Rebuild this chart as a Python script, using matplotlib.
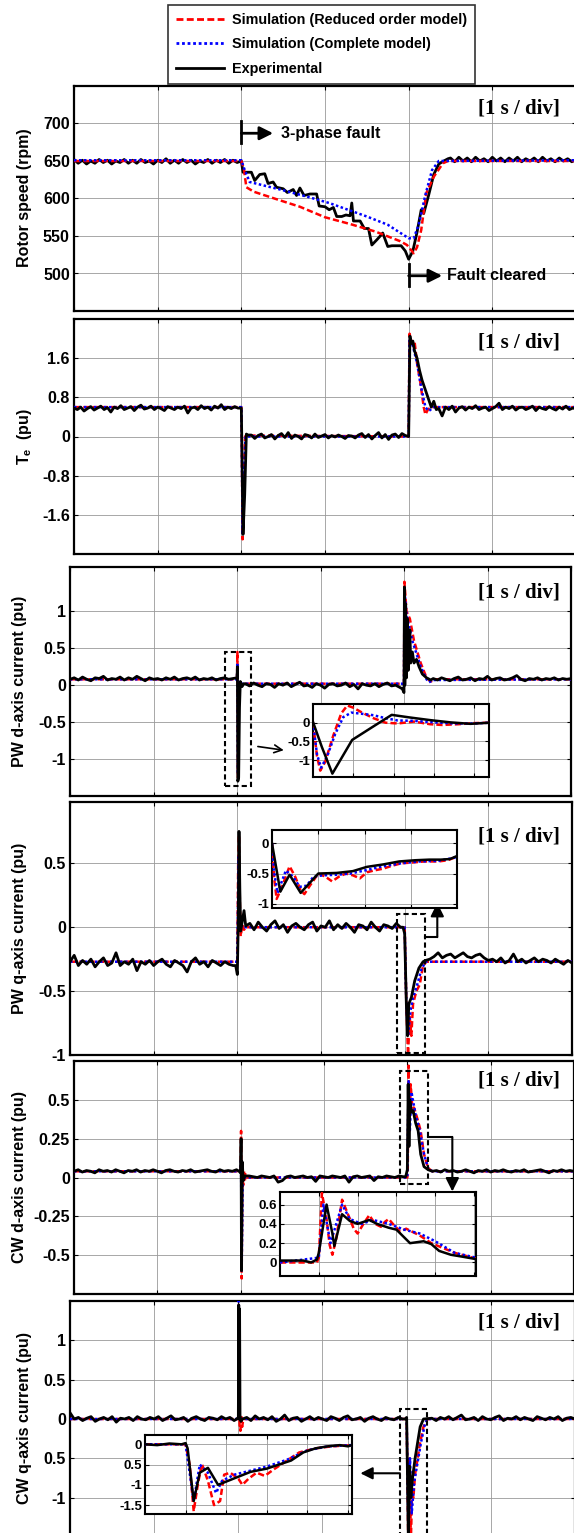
import numpy as np
import matplotlib
matplotlib.use('Agg')
import matplotlib.pyplot as plt
from matplotlib.lines import Line2D
from matplotlib.patches import Rectangle

plt.rcParams['font.family'] = ['Liberation Sans', 'DejaVu Sans']
plt.rcParams['font.weight'] = 'bold'
plt.rcParams['mathtext.fontset'] = 'custom'
plt.rcParams['mathtext.bf'] = 'Liberation Sans:bold'
plt.rcParams['mathtext.rm'] = 'Liberation Sans:bold'
plt.rcParams['mathtext.it'] = 'Liberation Sans:bold'

# ---------------- data ----------------
labels = ['Simulation (Reduced order model)', 'Simulation (Complete model)', 'Experimental']

# Panel 1: rotor speed (rpm)
p1_red_t = [0, 2.0, 2.03, 2.06, 2.15, 2.45, 2.7, 3.0, 3.3, 3.6, 3.9, 3.98, 4.06, 4.1, 4.15, 4.21, 4.3, 4.41, 4.47, 6.0]
p1_red_v = [650, 650, 640, 615, 609, 598, 589, 575, 566, 556, 543, 538, 527, 535, 558, 607, 629, 647, 650, 650]
p1_blue_t = [0, 2.0, 2.04, 2.1, 2.5, 2.8, 3.05, 3.5, 3.75, 4.0, 4.06, 4.12, 4.2, 4.28, 4.36, 6.0]
p1_blue_v = [651, 651, 638, 622, 611, 602, 594, 576, 565, 547, 547, 565, 605, 638, 650, 651]
p1_exp_pre = [652, 647, 651, 646, 650, 647, 652, 648, 651, 646, 650, 648, 652, 647, 651, 647, 652, 648, 650, 646,
              651, 648, 653, 647, 651, 647, 652, 648, 651, 646, 650, 648, 652, 647, 651, 648, 652, 647, 651, 648]
p1_exp_tr_t = [2.0, 2.02, 2.12, 2.16, 2.22, 2.28, 2.32, 2.38, 2.42, 2.5, 2.55, 2.62, 2.66, 2.7, 2.75, 2.82, 2.9, 2.93,
               3.0, 3.05, 3.1, 3.14, 3.2, 3.25, 3.3, 3.32, 3.34, 3.42, 3.47, 3.52, 3.56, 3.62, 3.66, 3.69, 3.75, 3.8,
               3.91, 3.96, 4.0, 4.05, 4.1, 4.15, 4.18, 4.24, 4.3, 4.36, 4.42, 4.47]
p1_exp_tr_v = [650, 635, 635, 624, 632, 633, 620, 622, 615, 613, 608, 612, 604, 614, 604, 606, 606, 590,
               589, 585, 588, 576, 576, 578, 577, 594, 570, 570, 560, 560, 538, 545, 550, 554, 536, 537,
               537, 530, 519, 530, 555, 585, 580, 605, 632, 646, 650, 653]
p1_exp_post = [654, 649, 655, 650, 654, 649, 655, 650, 653, 649, 655, 650, 654, 649, 654, 650, 655, 649, 653, 650,
               654, 649, 655, 650, 653, 649, 654, 650, 653, 649, 652]

# Panel 2: Te (pu)
p2_red_t = [0, 2.0, 2.005, 2.015, 2.03, 2.045, 2.06, 4.0, 4.01, 4.04, 4.07, 4.1, 4.14, 4.18, 4.2, 4.23, 4.27, 6.0]
p2_red_v = [0.6, 0.6, 0.0, -2.1, -1.0, 0.0, 0.02, 0.0, 2.1, 1.9, 1.95, 1.5, 1.1, 0.6, 0.45, 0.55, 0.6, 0.6]
p2_blue_t = [0, 2.0, 2.005, 2.015, 2.03, 2.05, 4.0, 4.01, 4.05, 4.1, 4.15, 4.2, 4.24, 4.3, 6.0]
p2_blue_v = [0.6, 0.6, 0.0, -2.0, -0.9, 0.0, 0.0, 2.0, 1.85, 1.5, 1.0, 0.6, 0.52, 0.6, 0.6]
p2_exp_pre = [0.58, 0.55, 0.6, 0.52, 0.57, 0.61, 0.54, 0.58, 0.62, 0.55, 0.59, 0.5, 0.6, 0.57, 0.63, 0.55, 0.58,
              0.61, 0.53, 0.6, 0.64, 0.56, 0.58, 0.62, 0.55, 0.6, 0.57, 0.53, 0.61, 0.58, 0.55, 0.6, 0.57, 0.62,
              0.48, 0.58, 0.6, 0.55, 0.63, 0.57, 0.6, 0.54, 0.62, 0.58, 0.65, 0.55, 0.6, 0.57, 0.61, 0.58]
p2_exp_tr1_t = [2.0, 2.005, 2.02, 2.04, 2.06, 2.08]
p2_exp_tr1_v = [0.58, 0.0, -2.0, -1.2, 0.05, 0.03]
p2_exp_mid = [0.03, -0.04, 0.02, 0.05, -0.03, 0.0, 0.04, -0.05, 0.02, 0.06, -0.02, 0.08, -0.04, 0.03, 0.0, -0.05,
              0.04, 0.02, -0.03, 0.05, -0.02, 0.01, 0.04, -0.03, 0.02, -0.01, 0.03, 0.0, -0.04, 0.02, 0.01, -0.03,
              0.03, 0.06, -0.02, 0.04, -0.05, 0.02, 0.08, -0.03, 0.04, -0.06, 0.03, 0.05, -0.02, 0.06, 0.02]
p2_exp_tr2_t = [4.0, 4.015, 4.03, 4.05, 4.07, 4.1, 4.13, 4.16, 4.2, 4.24, 4.27, 4.3, 4.33]
p2_exp_tr2_v = [0.0, 2.05, 1.9, 1.95, 1.75, 1.6, 1.35, 1.15, 0.95, 0.75, 0.6, 0.72, 0.55]
p2_exp_post = [0.57, 0.42, 0.6, 0.55, 0.62, 0.5, 0.58, 0.61, 0.54, 0.6, 0.57, 0.63, 0.55, 0.58, 0.6, 0.53, 0.57,
               0.61, 0.68, 0.55, 0.6, 0.57, 0.62, 0.54, 0.59, 0.6, 0.55, 0.58, 0.62, 0.53, 0.6, 0.57, 0.55, 0.61,
               0.57, 0.54, 0.6, 0.56, 0.62, 0.55, 0.58, 0.57]

# Panel 3: PW d-axis current (pu)
p3_red_t = [0, 2.0, 2.005, 2.012, 2.025, 2.04, 2.06, 4.0, 4.005, 4.03, 4.07, 4.12, 4.2, 4.27, 4.32, 4.38, 6.0]
p3_red_v = [0.08, 0.08, 0.45, -1.25, 0.05, 0.0, 0.02, 0.02, 1.4, 1.0, 0.9, 0.6, 0.3, 0.1, 0.05, 0.08, 0.08]
p3_blue_t = [0, 2.0, 2.005, 2.012, 2.025, 2.05, 4.0, 4.005, 4.03, 4.1, 4.2, 4.27, 4.3, 4.35, 6.0]
p3_blue_v = [0.08, 0.08, 0.3, -1.2, 0.0, 0.02, 0.02, 1.3, 0.95, 0.6, 0.25, 0.08, 0.04, 0.07, 0.08]
p3_exp_pre = [0.08, 0.1, 0.07, 0.11, 0.08, 0.06, 0.1, 0.09, 0.12, 0.07, 0.09, 0.08, 0.11, 0.07, 0.1, 0.08, 0.12,
              0.09, 0.06, 0.1, 0.08, 0.09, 0.07, 0.1, 0.08, 0.11, 0.07, 0.09, 0.1, 0.08, 0.11, 0.07, 0.09, 0.08,
              0.1, 0.07, 0.09, 0.1, 0.08, 0.09]
p3_exp_tr1_t = [2.0, 2.005, 2.01, 2.02, 2.03, 2.04, 2.06, 2.08]
p3_exp_tr1_v = [0.1, 0.25, -1.3, -1.25, -0.3, 0.05, -0.02, 0.02]
p3_exp_mid = [0.02, -0.01, 0.03, 0.0, -0.02, 0.02, 0.01, -0.03, 0.02, 0.0, 0.03, -0.02, 0.01, 0.04, -0.01, 0.0,
              -0.03, 0.02, 0.0, -0.04, 0.01, 0.02, -0.01, 0.0, 0.03, -0.02, 0.01, -0.05, 0.02, 0.0, -0.01, 0.02,
              -0.02, 0.01, 0.03, -0.01, 0.0, -0.03]
p3_exp_tr2_t = [3.98, 4.0, 4.005, 4.01, 4.02, 4.03, 4.04, 4.05, 4.07, 4.08, 4.1, 4.12, 4.15, 4.18, 4.22, 4.27, 4.32]
p3_exp_tr2_v = [-0.05, -0.1, 1.33, 0.0, 1.1, 0.1, 0.9, 0.2, 0.75, 0.3, 0.45, 0.3, 0.35, 0.25, 0.15, 0.1, 0.07]
p3_exp_post = [0.09, 0.07, 0.1, 0.08, 0.06, 0.09, 0.11, 0.07, 0.08, 0.1, 0.06, 0.09, 0.08, 0.12, 0.07, 0.09, 0.1,
               0.07, 0.08, 0.1, 0.13, 0.08, 0.06, 0.09, 0.08, 0.1, 0.07, 0.09, 0.08, 0.1, 0.07, 0.09, 0.08, 0.09]

# Panel 4: PW q-axis current (pu)
p4_red_t = [0, 2.0, 2.01, 2.02, 2.03, 2.04, 2.06, 2.08, 2.1, 4.0, 4.02, 4.04, 4.06, 4.08, 4.1, 4.14, 4.18, 4.22, 4.26, 6.0]
p4_red_v = [-0.27, -0.27, 0.5, 0.72, 0.2, -0.07, 0.02, -0.02, 0.0, 0.0, -0.6, -1.0, -0.7, -0.85, -0.6, -0.5, -0.45, -0.3, -0.27, -0.27]
p4_blue_t = [0, 2.0, 2.015, 2.03, 2.06, 4.0, 4.02, 4.04, 4.07, 4.1, 4.15, 4.2, 4.25, 6.0]
p4_blue_v = [-0.27, -0.27, 0.55, 0.05, 0.0, 0.0, -0.6, -0.85, -0.65, -0.55, -0.45, -0.33, -0.27, -0.27]
p4_exp_pre = [-0.27, -0.22, -0.3, -0.26, -0.29, -0.25, -0.31, -0.27, -0.24, -0.3, -0.28, -0.2, -0.3, -0.27, -0.29,
              -0.25, -0.34, -0.27, -0.29, -0.26, -0.3, -0.27, -0.25, -0.29, -0.31, -0.26, -0.28, -0.3, -0.35, -0.27,
              -0.24, -0.29, -0.27, -0.31, -0.26, -0.28, -0.3, -0.27, -0.29, -0.3]
p4_exp_tr1_t = [1.98, 2.0, 2.01, 2.02, 2.03, 2.04, 2.06, 2.08, 2.1]
p4_exp_tr1_v = [-0.3, -0.37, 0.0, 0.75, 0.3, -0.03, 0.05, 0.13, 0.01]
p4_exp_mid = [0.03, -0.02, 0.04, 0.0, -0.03, 0.02, 0.05, -0.01, 0.02, -0.04, 0.01, 0.03, 0.0, -0.02, 0.02, 0.04,
              -0.03, 0.01, 0.0, 0.05, -0.02, 0.02, -0.01, 0.03, 0.0, -0.04, 0.02, 0.01, -0.02, 0.04, 0.0, -0.03,
              0.02, 0.01, -0.01, 0.03, 0.0]
p4_exp_tr2_t = [3.98, 4.0, 4.02, 4.035, 4.05, 4.08, 4.12, 4.17, 4.22, 4.25]
p4_exp_tr2_v = [0.0, -0.05, -0.6, -0.85, -0.6, -0.55, -0.42, -0.32, -0.27, -0.26]
p4_exp_post = [-0.25, -0.23, -0.2, -0.24, -0.22, -0.21, -0.24, -0.22, -0.2, -0.23, -0.24, -0.22, -0.21, -0.24,
               -0.26, -0.25, -0.27, -0.24, -0.28, -0.26, -0.21, -0.27, -0.25, -0.28, -0.26, -0.24, -0.27, -0.25,
               -0.26, -0.28, -0.25, -0.27, -0.29, -0.26, -0.28]

# Panel 5: CW d-axis current (pu)
p5_red_t = [0, 2.0, 2.005, 2.012, 2.02, 2.03, 2.04, 2.05, 2.06, 2.08, 4.0, 4.005, 4.015, 4.025, 4.04, 4.06, 4.08,
            4.12, 4.16, 4.2, 4.25, 4.3, 6.0]
p5_red_v = [0.04, 0.04, 0.3, -0.65, 0.1, -0.05, 0.04, -0.02, 0.02, 0.0, 0.0, 0.05, 0.72, 0.3, 0.6, 0.45, 0.45,
            0.38, 0.3, 0.15, 0.06, 0.04, 0.04]
p5_blue_t = [0, 2.0, 2.005, 2.012, 2.025, 4.0, 4.015, 4.03, 4.05, 4.1, 4.15, 4.2, 4.25, 4.3, 6.0]
p5_blue_v = [0.04, 0.04, 0.12, -0.6, 0.0, 0.0, 0.62, 0.3, 0.55, 0.4, 0.3, 0.15, 0.06, 0.04, 0.04]
p5_exp_pre = [0.04, 0.05, 0.035, 0.045, 0.04, 0.03, 0.05, 0.04, 0.045, 0.035, 0.05, 0.04, 0.03, 0.045, 0.04, 0.05,
              0.035, 0.045, 0.04, 0.05, 0.04, 0.03, 0.045, 0.05, 0.04, 0.035, 0.045, 0.04, 0.05, 0.035, 0.04,
              0.045, 0.05, 0.04, 0.035, 0.05, 0.04, 0.045, 0.04, 0.05]
p5_exp_tr1_t = [1.98, 2.0, 2.005, 2.01, 2.02, 2.03, 2.05]
p5_exp_tr1_v = [0.04, 0.03, 0.25, -0.6, 0.1, -0.02, 0.01]
p5_exp_mid = [0.01, 0.005, 0.0, 0.01, 0.005, 0.0, 0.01, -0.03, -0.02, 0.005, 0.01, 0.0, 0.005, 0.01, 0.0, 0.005,
              -0.025, 0.01, 0.005, 0.0, 0.01, 0.005, 0.0, 0.01, -0.03, 0.005, 0.01, 0.0, 0.005, 0.01, -0.02,
              0.005, 0.0, 0.01, 0.005, 0.0, 0.01, 0.005]
p5_exp_tr2_t = [3.98, 4.0, 4.01, 4.02, 4.03, 4.05, 4.07, 4.1, 4.13, 4.16, 4.2, 4.25]
p5_exp_tr2_v = [0.005, 0.05, 0.6, 0.2, 0.5, 0.42, 0.43, 0.35, 0.3, 0.15, 0.07, 0.05]
p5_exp_post = [0.04, 0.045, 0.035, 0.05, 0.04, 0.045, 0.035, 0.04, 0.05, 0.04, 0.03, 0.045, 0.04, 0.05, 0.035,
               0.045, 0.04, 0.05, 0.04, 0.035, 0.045, 0.04, 0.05, 0.035, 0.04, 0.045, 0.05, 0.04, 0.03, 0.045,
               0.04, 0.05, 0.04, 0.045, 0.04]

# Panel 6: CW q-axis current (pu)
p6_red_t = [0, 2.0, 2.005, 2.015, 2.025, 2.035, 2.045, 2.06, 4.0, 4.02, 4.035, 4.05, 4.065, 4.08, 4.1, 4.13,
            4.16, 4.2, 4.25, 6.0]
p6_red_v = [0.0, 0.0, 1.45, -0.1, -0.15, 0.05, -0.1, 0.0, 0.0, -1.65, -0.5, -1.55, -0.9, -1.0, -0.7, -0.5, -0.3,
            -0.1, 0.0, 0.0]
p6_blue_t = [0, 2.0, 2.005, 2.015, 4.0, 4.02, 4.04, 4.06, 4.09, 4.13, 4.17, 4.22, 4.25, 6.0]
p6_blue_v = [0.0, 0.0, 1.5, 0.0, 0.0, -1.4, -0.5, -1.2, -0.8, -0.55, -0.3, -0.05, 0.0, 0.0]
p6_exp_pre = [0.08, 0.0, 0.02, -0.02, 0.01, 0.03, -0.03, 0.0, 0.02, -0.01, 0.03, -0.04, 0.01, 0.0, 0.02, -0.02,
              0.03, 0.0, -0.01, 0.02, 0.0, 0.03, -0.02, 0.01, 0.04, -0.01, 0.0, 0.02, -0.03, 0.01, 0.03, 0.0,
              -0.02, 0.02, 0.01, -0.01, 0.03, 0.0, 0.02, -0.02]
p6_exp_tr1_t = [1.98, 2.0, 2.005, 2.01, 2.015, 2.02, 2.03, 2.05]
p6_exp_tr1_v = [0.0, 0.02, 1.45, 0.0, 1.4, 0.05, -0.03, 0.0]
p6_exp_mid = [0.02, -0.02, 0.04, 0.0, 0.02, -0.01, 0.03, -0.03, 0.0, 0.05, -0.02, 0.01, 0.02, -0.03, 0.0, 0.03,
              -0.01, 0.02, 0.0, -0.02, 0.03, 0.01, -0.02, 0.02, 0.04, -0.01, 0.0, 0.02, -0.03, 0.01, 0.03, 0.0,
              -0.02, 0.02, 0.0, -0.01, 0.02, 0.0]
p6_exp_tr2_t = [3.98, 4.0, 4.02, 4.035, 4.05, 4.07, 4.1, 4.13, 4.16, 4.2]
p6_exp_tr2_v = [0.0, 0.02, -1.55, -0.6, -1.0, -0.75, -0.5, -0.3, -0.1, 0.0]
p6_exp_post = [0.01, -0.02, 0.02, 0.0, 0.03, -0.01, 0.02, 0.05, -0.01, 0.0, 0.02, -0.02, 0.03, 0.0, -0.01, 0.02,
               0.04, -0.02, 0.01, 0.0, 0.03, -0.01, 0.02, 0.0, -0.02, 0.03, 0.01, -0.01, 0.02, 0.0, 0.03, -0.02,
               0.01, 0.02, 0.0]

# Insets (x in grid divisions)
i3_red_x = [0, 0.1, 0.18, 0.3, 0.5, 0.7, 0.85, 1.0, 1.2, 1.5, 1.8, 2.1, 2.5, 2.9, 3.2, 3.6, 4.0, 4.36]
i3_red_y = [0, -0.9, -1.28, -1.05, -0.35, 0.25, 0.46, 0.4, 0.28, 0.12, 0.0, -0.02, 0.03, -0.04, -0.06, -0.04, -0.01, 0.0]
i3_blue_x = [0, 0.1, 0.2, 0.35, 0.55, 0.75, 0.95, 1.2, 1.5, 1.8, 2.1, 2.5, 3.0, 3.5, 4.0, 4.36]
i3_blue_y = [0, -0.85, -1.2, -0.9, -0.3, 0.15, 0.27, 0.24, 0.2, 0.12, 0.06, 0.05, 0.01, -0.02, -0.02, 0.0]
i3_exp_x = [0, 0.22, 0.48, 0.97, 1.45, 1.95, 2.4, 2.9, 3.4, 3.9, 4.36]
i3_exp_y = [0.02, -0.65, -1.36, -0.46, -0.13, 0.21, 0.14, 0.07, 0.01, -0.03, 0.0]

i4_red_x = [0, 0.05, 0.1, 0.2, 0.38, 0.5, 0.62, 0.7, 0.82, 1.0, 1.15, 1.3, 1.45, 1.6, 1.75, 1.9, 2.05, 2.2, 2.4,
            2.6, 2.8, 3.0, 3.3, 3.6, 3.8, 4.0]
i4_red_y = [0, -0.6, -0.92, -0.75, -0.38, -0.55, -0.78, -0.84, -0.7, -0.5, -0.55, -0.63, -0.55, -0.5, -0.53, -0.58,
            -0.48, -0.45, -0.42, -0.37, -0.33, -0.32, -0.3, -0.3, -0.28, -0.22]
i4_blue_x = [0, 0.05, 0.12, 0.3, 0.45, 0.6, 0.75, 0.9, 1.1, 1.4, 1.7, 2.0, 2.4, 2.8, 3.2, 3.6, 4.0]
i4_blue_y = [0, -0.5, -0.82, -0.45, -0.55, -0.72, -0.7, -0.55, -0.53, -0.52, -0.5, -0.45, -0.38, -0.33, -0.3, -0.29, -0.23]
i4_exp_x = [0, 0.18, 0.38, 0.62, 1.0, 1.4, 1.75, 2.05, 2.4, 2.75, 3.1, 3.4, 3.65, 3.85, 4.0]
i4_exp_y = [0, -0.8, -0.52, -0.82, -0.5, -0.49, -0.46, -0.39, -0.35, -0.3, -0.28, -0.27, -0.27, -0.26, -0.21]

i5_red_x = [0, 0.95, 1.0, 1.08, 1.2, 1.28, 1.35, 1.45, 1.6, 1.75, 1.9, 2.0, 2.15, 2.3, 2.45, 2.6, 2.7, 2.8, 2.95,
            3.1, 3.25, 3.4, 3.6, 3.9, 4.2, 4.5, 5.05]
i5_red_y = [0, 0.0, 0.05, 0.72, 0.45, 0.18, 0.08, 0.25, 0.65, 0.5, 0.35, 0.3, 0.4, 0.49, 0.4, 0.37, 0.42, 0.45,
            0.38, 0.32, 0.35, 0.32, 0.28, 0.2, 0.15, 0.1, 0.04]
i5_blue_x = [0, 1.0, 1.12, 1.3, 1.6, 1.8, 2.1, 2.4, 2.8, 3.2, 3.6, 4.0, 4.5, 5.05]
i5_blue_y = [0, 0.05, 0.6, 0.2, 0.6, 0.45, 0.4, 0.44, 0.4, 0.34, 0.3, 0.22, 0.1, 0.05]
i5_exp_x = [0, 0.6, 0.8, 0.95, 1.0, 1.2, 1.35, 1.4, 1.6, 1.8, 2.0, 2.3, 2.5, 2.8, 3.0, 3.2, 3.35, 3.7, 3.9, 4.1,
            4.4, 4.7, 5.05]
i5_exp_y = [0.02, 0.02, 0.0, 0.03, 0.1, 0.6, 0.3, 0.17, 0.5, 0.43, 0.4, 0.44, 0.4, 0.36, 0.34, 0.26, 0.2, 0.22,
            0.19, 0.12, 0.08, 0.06, 0.035]

i6_red_x = [0, 1.0, 1.1, 1.2, 1.3, 1.4, 1.55, 1.7, 1.85, 1.95, 2.1, 2.3, 2.4, 2.55, 2.75, 2.95, 3.2, 3.5, 3.8,
            4.2, 4.6, 5.1]
i6_red_y = [0, 0.0, -0.5, -1.65, -1.0, -0.48, -0.9, -1.5, -1.4, -0.75, -0.7, -0.85, -1.0, -0.85, -0.7, -0.78,
            -0.6, -0.4, -0.2, -0.1, -0.05, -0.02]
i6_blue_x = [0, 1.0, 1.2, 1.35, 1.55, 1.75, 1.9, 2.2, 2.6, 3.0, 3.5, 4.0, 4.5, 5.1]
i6_blue_y = [0, 0.0, -1.4, -0.5, -0.7, -1.2, -0.9, -0.75, -0.65, -0.55, -0.38, -0.15, -0.05, -0.02]
i6_exp_x = [0, 0.3, 0.6, 0.9, 1.0, 1.05, 1.2, 1.35, 1.55, 1.8, 2.0, 2.3, 2.6, 3.0, 3.3, 3.6, 3.9, 4.2, 4.5,
            4.8, 5.0, 5.1]
i6_exp_y = [0, -0.02, 0.02, 0.0, 0.03, -0.1, -1.4, -0.7, -0.58, -1.0, -0.92, -0.8, -0.68, -0.6, -0.5, -0.4,
            -0.2, -0.1, -0.05, -0.02, -0.05, -0.02]

# ---------------- drawing ----------------
W, H = 574, 1533
fig = plt.figure(figsize=(W / 100, H / 100), dpi=100)
RED, BLUE, BLK = '#ff0000', '#0000ff', 'black'
RED_LS = (0, (2.5, 1.2))
BLUE_LS = (0, (1, 1))


def add_ax(l, r, t, b):
    return fig.add_axes([l / W, 1 - b / H, (r - l) / W, (b - t) / H])


def style(ax, xlim, ylim, xt, yt, ylab, fs, lw=1.6):
    ax.set_xlim(*xlim)
    ax.set_ylim(*ylim)
    ax.set_xticks(xt)
    ax.set_xticklabels([])
    ax.set_yticks(yt)
    ax.set_yticklabels(ylab, fontsize=fs, fontweight='bold')
    ax.tick_params(direction='in', length=3, width=0.8, top=True, right=True, pad=3)
    ax.grid(True, color='0.6', lw=0.6)
    ax.set_axisbelow(True)
    for s in ax.spines.values():
        s.set_linewidth(lw)


def exp_trace(pre, tr_list, post, spans):
    ts, vs = [], []
    (a0, b0), (a1, b1) = spans[0], spans[-1]
    ts.append(np.linspace(a0, b0, len(pre)))
    vs.append(np.asarray(pre, float))
    k = 1
    for item in tr_list:
        if isinstance(item, tuple):
            ts.append(np.asarray(item[0], float))
            vs.append(np.asarray(item[1], float))
        else:
            a, b = spans[k]
            k += 1
            ts.append(np.linspace(a, b, len(item)))
            vs.append(np.asarray(item, float))
    ts.append(np.linspace(a1, b1, len(post)))
    vs.append(np.asarray(post, float))
    return np.concatenate(ts), np.concatenate(vs)


def draw_main(ax, red, blue, exp, black_top=True):
    zr, zb, zk = (3, 4, 5) if black_top else (4, 5, 3)
    ax.plot(red[0], red[1], color=RED, ls=RED_LS, lw=1.8, zorder=zr)
    ax.plot(blue[0], blue[1], color=BLUE, ls=BLUE_LS, lw=1.8, zorder=zb)
    ax.plot(exp[0], exp[1], color=BLK, lw=2.0, zorder=zk)


XT = [0, 1, 2, 3, 4, 5, 6]
FS = 11.5

# Panel 1
ax1 = add_ax(74, 576, 86, 311)
style(ax1, (0, 6), (450, 750), XT, [500, 550, 600, 650, 700], ['500', '550', '600', '650', '700'], FS)
e1 = exp_trace(p1_exp_pre, [(p1_exp_tr_t, p1_exp_tr_v)], p1_exp_post, [(0, 1.95), (4.5, 6.0)])
draw_main(ax1, (p1_red_t, p1_red_v), (p1_blue_t, p1_blue_v), e1, black_top=False)
ax1.plot([2, 2], [674, 703], color='k', lw=2, zorder=6)
ax1.annotate('', xy=(2.38, 687), xytext=(2.0, 687),
             arrowprops=dict(arrowstyle='-|>', color='k', lw=2, mutation_scale=20, shrinkA=0, shrinkB=0), zorder=6)
ax1.text(2.47, 687, '3-phase fault', fontsize=11.5, fontweight='bold', va='center', ha='left')
ax1.plot([4, 4], [483, 512], color='k', lw=2, zorder=6)
ax1.annotate('', xy=(4.4, 497), xytext=(4.0, 497),
             arrowprops=dict(arrowstyle='-|>', color='k', lw=2, mutation_scale=20, shrinkA=0, shrinkB=0), zorder=6)
ax1.text(4.46, 497, 'Fault cleared', fontsize=11.5, fontweight='bold', va='center', ha='left')

# Panel 2
ax2 = add_ax(74, 576, 319, 554)
style(ax2, (0, 6), (-2.4, 2.4), XT, [-1.6, -0.8, 0, 0.8, 1.6], ['-1.6', '-0.8', '0', '0.8', '1.6'], FS)
e2 = exp_trace(p2_exp_pre, [(p2_exp_tr1_t, p2_exp_tr1_v), p2_exp_mid, (p2_exp_tr2_t, p2_exp_tr2_v)], p2_exp_post,
               [(0, 1.96), (2.12, 3.96), (4.36, 6.0)])
draw_main(ax2, (p2_red_t, p2_red_v), (p2_blue_t, p2_blue_v), e2)

# Panel 3
ax3 = add_ax(70, 571, 567, 796)
style(ax3, (0, 6), (-1.5, 1.6), XT, [-1, -0.5, 0, 0.5, 1], ['-1', '-0.5', '0', '0.5', '1'], FS)
e3 = exp_trace(p3_exp_pre, [(p3_exp_tr1_t, p3_exp_tr1_v), p3_exp_mid, (p3_exp_tr2_t, p3_exp_tr2_v)], p3_exp_post,
               [(0, 1.95), (2.1, 3.95), (4.35, 6.0)])
draw_main(ax3, (p3_red_t, p3_red_v), (p3_blue_t, p3_blue_v), e3)
ax3.add_patch(Rectangle((1.86, -1.37), 0.31, 1.82, fill=False, ec='k', lw=1.5, ls=(0, (2.5, 1.5)), zorder=7))
ax3.annotate('', xy=(2.56, -0.88), xytext=(2.25, -0.83),
             arrowprops=dict(arrowstyle='->', color='k', lw=1.2, mutation_scale=14, shrinkA=0, shrinkB=0))

# Panel 4
ax4 = add_ax(70, 572, 802, 1055)
style(ax4, (0, 6), (-1, 0.98), XT, [-1, -0.5, 0, 0.5], ['-1', '-0.5', '0', '0.5'], FS)
e4 = exp_trace(p4_exp_pre, [(p4_exp_tr1_t, p4_exp_tr1_v), p4_exp_mid, (p4_exp_tr2_t, p4_exp_tr2_v)], p4_exp_post,
               [(0, 1.95), (2.15, 3.95), (4.3, 6.0)])
draw_main(ax4, (p4_red_t, p4_red_v), (p4_blue_t, p4_blue_v), e4)
ax4.add_patch(Rectangle((3.91, -0.985), 0.33, 1.085, fill=False, ec='k', lw=1.5, ls=(0, (2.5, 1.5)), zorder=7))
ax4.plot([4.24, 4.39], [-0.077, -0.077], color='k', lw=1.5, zorder=7)
ax4.annotate('', xy=(4.39, 0.19), xytext=(4.39, -0.077),
             arrowprops=dict(arrowstyle='-|>', color='k', lw=1.5, mutation_scale=20, shrinkA=0, shrinkB=0), zorder=7)

# Panel 5
ax5 = add_ax(74, 574, 1061, 1294)
style(ax5, (0, 6), (-0.75, 0.75), XT, [-0.5, -0.25, 0, 0.25, 0.5], ['-0.5', '-0.25', '0', '0.25', '0.5'], FS)
e5 = exp_trace(p5_exp_pre, [(p5_exp_tr1_t, p5_exp_tr1_v), p5_exp_mid, (p5_exp_tr2_t, p5_exp_tr2_v)], p5_exp_post,
               [(0, 1.95), (2.1, 3.95), (4.3, 6.0)])
draw_main(ax5, (p5_red_t, p5_red_v), (p5_blue_t, p5_blue_v), e5)
ax5.add_patch(Rectangle((3.91, -0.04), 0.34, 0.725, fill=False, ec='k', lw=1.5, ls=(0, (2.5, 1.5)), zorder=7))
ax5.plot([4.25, 4.54], [0.26, 0.26], color='k', lw=1.5, zorder=7)
ax5.annotate('', xy=(4.54, -0.09), xytext=(4.54, 0.26),
             arrowprops=dict(arrowstyle='-|>', color='k', lw=1.5, mutation_scale=20, shrinkA=0, shrinkB=0), zorder=7)

# Panel 6
ax6 = add_ax(70, 575, 1301, 1537)
style(ax6, (0, 6), (-1.5, 1.5), XT, [-1, -0.5, 0, 0.5, 1], ['-1', '0.5', '0', '0.5', '1'], FS)
e6 = exp_trace(p6_exp_pre, [(p6_exp_tr1_t, p6_exp_tr1_v), p6_exp_mid, (p6_exp_tr2_t, p6_exp_tr2_v)], p6_exp_post,
               [(0, 1.95), (2.1, 3.95), (4.3, 6.0)])
draw_main(ax6, (p6_red_t, p6_red_v), (p6_blue_t, p6_blue_v), e6)
ax6.add_patch(Rectangle((3.92, -1.7), 0.32, 1.83, fill=False, ec='k', lw=1.5, ls=(0, (2.5, 1.5)), zorder=7))
ax6.annotate('', xy=(3.45, -0.69), xytext=(3.92, -0.69),
             arrowprops=dict(arrowstyle='-|>', color='k', lw=1.5, mutation_scale=18, shrinkA=0, shrinkB=0), zorder=7)


# Insets
def inset(l, r, t, b, xlim, ylim, xt, yt, ylab, red, blue, exp):
    ax = add_ax(l, r, t, b)
    ax.set_facecolor('white')
    style(ax, xlim, ylim, xt, yt, ylab, 9.5, lw=1.5)
    ax.tick_params(pad=2)
    ax.plot(red[0], red[1], color=RED, ls=RED_LS, lw=1.8, zorder=3)
    ax.plot(blue[0], blue[1], color=BLUE, ls=BLUE_LS, lw=1.8, zorder=4)
    ax.plot(exp[0], exp[1], color=BLK, lw=1.8, zorder=5)
    return ax


inset(313, 489, 704, 777, (0, 4.36), (-1.45, 0.5), [1, 2, 3, 4], [-1, -0.5, 0], ['-1', '-0.5', '0'],
      (i3_red_x, i3_red_y), (i3_blue_x, i3_blue_y), (i3_exp_x, i3_exp_y))
inset(272, 457, 830, 908, (0, 4), (-1.07, 0.22), [1, 2, 3], [-1, -0.5, 0], ['-1', '-0.5', '0'],
      (i4_red_x, i4_red_y), (i4_blue_x, i4_blue_y), (i4_exp_x, i4_exp_y))
inset(280, 476, 1192, 1276, (0, 5.05), (-0.14, 0.73), [1, 2, 3, 4, 5], [0, 0.2, 0.4, 0.6],
      ['0', '0.2', '0.4', '0.6'], (i5_red_x, i5_red_y), (i5_blue_x, i5_blue_y), (i5_exp_x, i5_exp_y))
inset(145, 352, 1435, 1514, (0, 5.1), (-1.72, 0.23), [1, 2, 3, 4, 5], [-1.5, -1, -0.5, 0],
      ['-1.5', '-1', '0.5', '0'], (i6_red_x, i6_red_y), (i6_blue_x, i6_blue_y), (i6_exp_x, i6_exp_y))

# Y labels
ylabels = [('Rotor speed (rpm)', 24, 198), (r'$\mathbf{T_e}$  (pu)', 25, 437),
           ('PW d-axis current (pu)', 20, 681), ('PW q-axis current (pu)', 20, 928),
           ('CW d-axis current (pu)', 20, 1177), ('CW q-axis current (pu)', 24, 1418)]
for txt, x, y in ylabels:
    fig.text(x / W, 1 - y / H, txt, rotation=90, ha='center', va='center', fontsize=11.5, fontweight='bold')

# [1 s / div]
for y in [108, 343, 592, 836, 1080, 1323]:
    fig.text(560 / W, 1 - y / H, '[1 s / div]', ha='right', va='center', fontsize=15,
             family=['Liberation Serif', 'DejaVu Serif'], fontweight='bold')

# Legend
handles = [Line2D([], [], color=RED, ls=RED_LS, lw=2),
           Line2D([], [], color=BLUE, ls=BLUE_LS, lw=2),
           Line2D([], [], color=BLK, lw=2)]
leg = fig.legend(handles, labels, loc='upper left', bbox_to_anchor=(168 / W, 1 - 5 / H), frameon=True,
                 fancybox=False, edgecolor='k', prop={'weight': 'bold', 'size': 10.4}, handlelength=3.3,
                 handletextpad=0.6, borderpad=0.55, labelspacing=0.72, borderaxespad=0)
leg.get_frame().set_linewidth(1.2)

fig.savefig('out.png', dpi=100)
